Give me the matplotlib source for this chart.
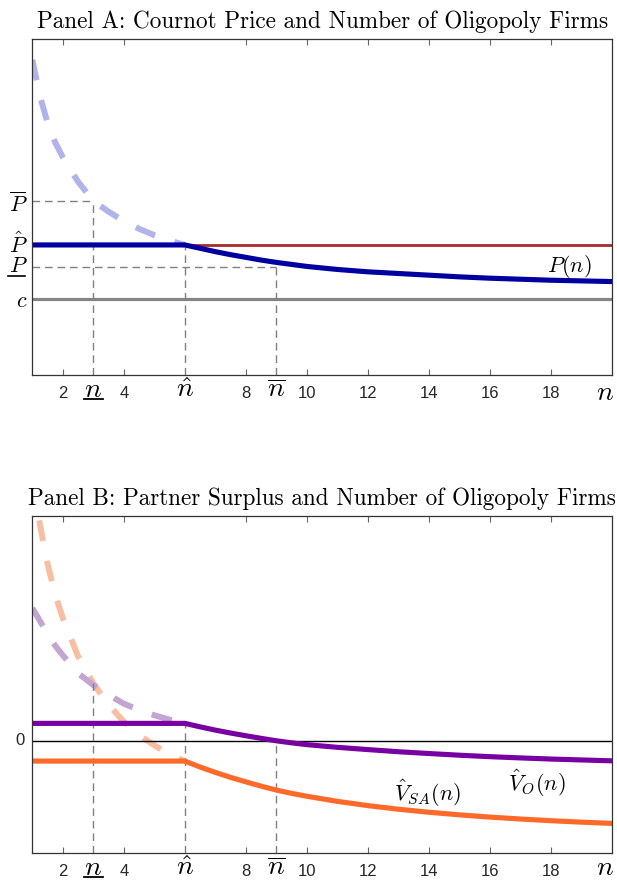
import numpy as np
import matplotlib.pyplot as plt

plt.rcParams['mathtext.fontset'] = 'cm'
plt.rcParams['font.family'] = 'Liberation Sans'

# ---- Panel A: Cournot price (y axis in arbitrary units 0..1)
n_dash = [1, 1.25, 1.5, 1.75, 2, 2.5, 3, 3.5, 4, 4.5, 5, 5.5, 6]
price_dash = [0.938, 0.83, 0.75, 0.692, 0.648, 0.575, 0.518, 0.486, 0.458, 0.435, 0.416, 0.40, 0.387]

n_solid = [1, 6, 6.5, 7, 7.5, 8, 8.5, 9, 9.5, 10, 11, 12, 13, 14, 15, 16, 17, 18, 19, 20]
price_solid = [0.387, 0.387, 0.377, 0.367, 0.358, 0.350, 0.342, 0.335, 0.329, 0.323,
               0.314, 0.307, 0.302, 0.297, 0.292, 0.288, 0.285, 0.282, 0.280, 0.278]

red_n = [6, 20]
red_p = [0.387, 0.387]

cost = 0.225
P_bar, P_hat, P_low = 0.518, 0.387, 0.322
n_low, n_hat, n_bar = 3, 6, 9

# ---- Panel B: partner surplus
vsa_dash = [2.32, 1.92, 1.57, 1.30, 1.09, 0.75, 0.51, 0.32, 0.17, 0.05, -0.04, -0.125, -0.18]
vo_dash = [1.18, 1.065, 0.95, 0.845, 0.76, 0.60, 0.495, 0.408, 0.33, 0.274, 0.227, 0.188, 0.155]

vo_solid = [0.155, 0.155, 0.124, 0.095, 0.069, 0.045, 0.022, 0.0, -0.018, -0.034,
            -0.058, -0.078, -0.097, -0.113, -0.128, -0.141, -0.152, -0.162, -0.170, -0.178]
vsa_solid = [-0.18, -0.18, -0.233, -0.281, -0.325, -0.365, -0.403, -0.438, -0.467, -0.493,
             -0.538, -0.576, -0.608, -0.635, -0.658, -0.678, -0.695, -0.710, -0.723, -0.734]

v_cross = 0.51   # where the two dashed curves meet at n_low

xticks = [2, 4, 8, 10, 12, 14, 16, 18]

guide = dict(color='#808080', lw=1.0, dashes=(5.5, 3.5))
dash_style = dict(lw=4.3, dashes=(3.5, 3.4), dash_capstyle='butt')


def style_axes(ax, title):
    ax.set_xlim(1, 20)
    ax.set_xticks(xticks)
    ax.set_xticklabels([str(t) for t in xticks], fontsize=12)
    ax.set_yticks([])
    ax.tick_params(axis='x', direction='in', top=True, length=4, pad=8,
                   color='#666666', labelcolor='#262626')
    for s in ax.spines.values():
        s.set_color('#333333')
        s.set_linewidth(0.9)
    ax.set_title(title, fontname='cmr10', fontsize=16.7, pad=8)


def n_labels(ax, yb, yu, yend):
    tr = ax.get_xaxis_transform()
    ax.text(n_low, yb, r'$n$', transform=tr, fontsize=20, ha='center', va='baseline')
    ax.plot([n_low - 0.3, n_low + 0.3], [yu, yu], transform=tr, color='k', lw=1.3, clip_on=False)
    ax.text(n_hat, yb, r'$\hat{n}$', transform=tr, fontsize=20, ha='center', va='baseline')
    ax.text(n_bar, yb, r'$\overline{n}$', transform=tr, fontsize=20, ha='center', va='baseline')
    ax.text(19.78, yend, r'$n$', transform=tr, fontsize=20, ha='center', va='baseline')


fig = plt.figure(figsize=(6.17, 8.8), dpi=100)

# Panel A
ax1 = fig.add_axes([0.0524, 0.5739, 0.9395, 0.3818])
ax1.set_ylim(0, 1)
ax1.plot(n_dash, price_dash, color='#b1b4e9', **dash_style)
ax1.plot([1, 20], [cost, cost], color='#858585', lw=2.3)
ax1.plot([1, n_low], [P_bar, P_bar], **guide)
ax1.plot([n_low, n_low], [0, P_bar], **guide)
ax1.plot([n_hat, n_hat], [0, P_hat], **guide)
ax1.plot([1, n_bar], [P_low, P_low], **guide)
ax1.plot([n_bar, n_bar], [0, P_low], **guide)
ax1.plot(red_n, red_p, color='#a82a2a', lw=2.0)
ax1.plot(n_solid, price_solid, color='#0000a0', lw=3.7, solid_joinstyle='round')
ax1.text(18.6, 0.322, r'$P(n)$', fontsize=16, ha='center', va='center')
style_axes(ax1, 'Panel A: Cournot Price and Number of Oligopoly Firms')

ytr = ax1.get_yaxis_transform()
ax1.text(-0.008, P_bar - 0.012, r'$\overline{P}$', transform=ytr, fontsize=16, ha='right', va='center')
ax1.text(-0.008, P_hat, r'$\hat{P}$', transform=ytr, fontsize=16, ha='right', va='center')
ax1.text(-0.008, P_low, r'$P$', transform=ytr, fontsize=16, ha='right', va='center')
ax1.plot([-0.042, -0.012], [0.295, 0.295], transform=ax1.transAxes, color='k', lw=1.2, clip_on=False)
ax1.text(-0.008, cost - 0.006, r'$c$', transform=ytr, fontsize=16, ha='right', va='center')
n_labels(ax1, -0.066, -0.073, -0.074)

# Panel B
ax2 = fig.add_axes([0.0524, 0.0303, 0.9395, 0.3836])
ax2.set_ylim(-1, 2)
ax2.plot(n_dash, vsa_dash, color='#f8bea2', **dash_style)
ax2.plot(n_dash, vo_dash, color='#c3a5d3', **dash_style)
ax2.axhline(0, color='k', lw=1.0)
ax2.plot([n_low, n_low], [-1, v_cross], **guide)
ax2.plot([n_hat, n_hat], [-1, vo_solid[1]], **guide)
ax2.plot([n_bar, n_bar], [-1, 0], **guide)
ax2.plot(n_solid, vo_solid, color='#7800a2', lw=3.7, solid_joinstyle='round')
ax2.plot(n_solid, vsa_solid, color='#ff6a2a', lw=3.7, solid_joinstyle='round')
ax2.text(17.55, -0.379, r'$\hat{V}_O(n)$', fontsize=16, ha='center', va='center')
ax2.text(13.94, -0.468, r'$\hat{V}_{SA}(n)$', fontsize=16, ha='center', va='center')
style_axes(ax2, 'Panel B: Partner Surplus and Number of Oligopoly Firms')
ax2.text(-0.014, 0, '0', transform=ax2.get_yaxis_transform(), fontsize=12,
         ha='right', va='center', color='#262626')
n_labels(ax2, -0.065, -0.071, -0.063)

fig.savefig('out.png', dpi=100)
